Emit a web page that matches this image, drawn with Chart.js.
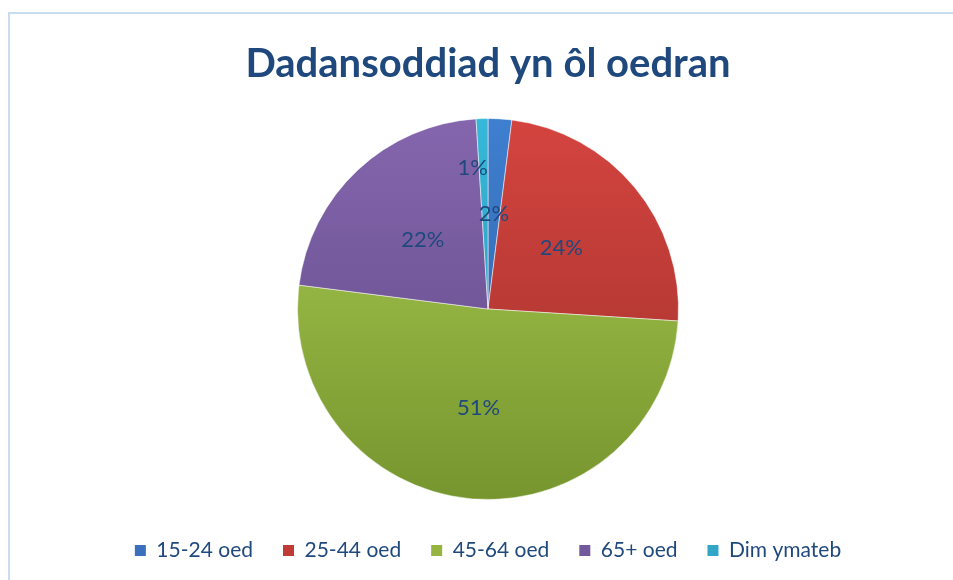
<!DOCTYPE html>
<html lang="cy">
<head>
  <meta charset="UTF-8" />
  <title>Dadansoddiad yn ôl oedran</title>
  <script src="https://cdn.jsdelivr.net/npm/chart.js@4.4.1/dist/chart.umd.min.js"></script>
  <style>
    * { box-sizing: border-box; }
    body { margin: 0; background: #ffffff; overflow: hidden; }
    .frame {
      position: absolute; left: 8px; top: 12px;
      width: 980px; height: 620px;
      border: 2px solid #cadcef;
    }
    .chart-wrap { position: absolute; left: 0; top: 0; width: 953px; height: 580px; }
  </style>
</head>
<body>
  <div class="frame"></div>
  <div class="chart-wrap"><canvas id="pieChart"></canvas></div>

  <script>
    // data
    const categories = ["15-24 oed", "25-44 oed", "45-64 oed", "65+ oed", "Dim ymateb"];
    const shares = [2, 24, 51, 22, 1];
    const labelText = ["2%", "24%", "51%", "22%", "1%"];

    // gradient colours, top -> bottom (Excel style)
    const topColours = ["#3f7fd0", "#d4443f", "#abcc52", "#8566ae", "#37b8d8"];
    const bottomColours = ["#2c5e9e", "#a0302c", "#76952e", "#5e4884", "#2a8fae"];
    const legendColours = ["#3a70bd", "#c03a36", "#95b440", "#74589c", "#32a6c6"];

    const textBlue = "#1f497d";

    function sliceFill(ctx) {
      const chart = ctx.chart;
      const area = chart.chartArea;
      if (!area) return topColours[ctx.dataIndex];
      const g = chart.ctx.createLinearGradient(0, area.top, 0, area.bottom);
      g.addColorStop(0, topColours[ctx.dataIndex]);
      g.addColorStop(1, bottomColours[ctx.dataIndex]);
      return g;
    }

    // draw percent labels inside the slices
    const sliceLabels = {
      id: "sliceLabels",
      afterDatasetsDraw(chart, args, opts) {
        const c = chart.ctx;
        const arcs = chart.getDatasetMeta(0).data;
        c.save();
        c.font = opts.font;
        c.fillStyle = opts.color;
        c.textAlign = "center";
        c.textBaseline = "middle";
        arcs.forEach((arc, i) => {
          const mid = (arc.startAngle + arc.endAngle) / 2;
          const r = arc.outerRadius * (opts.radius[i] || 0.5);
          const x = arc.x + Math.cos(mid) * r + (opts.dx[i] || 0);
          const y = arc.y + Math.sin(mid) * r;
          c.fillText(labelText[i], x, y);
        });
        c.restore();
      }
    };

    new Chart(document.getElementById("pieChart"), {
      type: "pie",
      data: {
        labels: categories,
        datasets: [{
          data: shares,
          backgroundColor: sliceFill,
          borderColor: "rgba(255,255,255,0.5)",
          borderWidth: 1
        }]
      },
      plugins: [sliceLabels],
      options: {
        responsive: true,
        maintainAspectRatio: false,
        animation: false,
        layout: { padding: { left: 23, right: 0, top: 0, bottom: 9 } },
        plugins: {
          title: {
            display: true,
            text: "Dadansoddiad yn ôl oedran",
            color: textBlue,
            font: { family: "Lato", size: 40, weight: "bold" },
            padding: { top: 40, bottom: 30 }
          },
          legend: {
            position: "bottom",
            title: { display: true, text: "", font: { size: 10, lineHeight: 1 }, padding: 0 },
            labels: {
              color: textBlue,
              font: { family: "Lato", size: 21 },
              boxWidth: 11,
              boxHeight: 11,
              padding: 30,
              generateLabels(chart) {
                return categories.map((name, i) => ({
                  text: name,
                  fillStyle: legendColours[i],
                  strokeStyle: legendColours[i],
                  lineWidth: 0,
                  fontColor: textBlue,
                  index: i
                }));
              }
            }
          },
          tooltip: { enabled: false },
          sliceLabels: {
            font: "22px Lato",
            color: textBlue,
            radius: [0.5, 0.5, 0.52, 0.5, 0.74],
            dx: [0, 0, 0, 0, -11]
          }
        }
      }
    });
  </script>
</body>
</html>
